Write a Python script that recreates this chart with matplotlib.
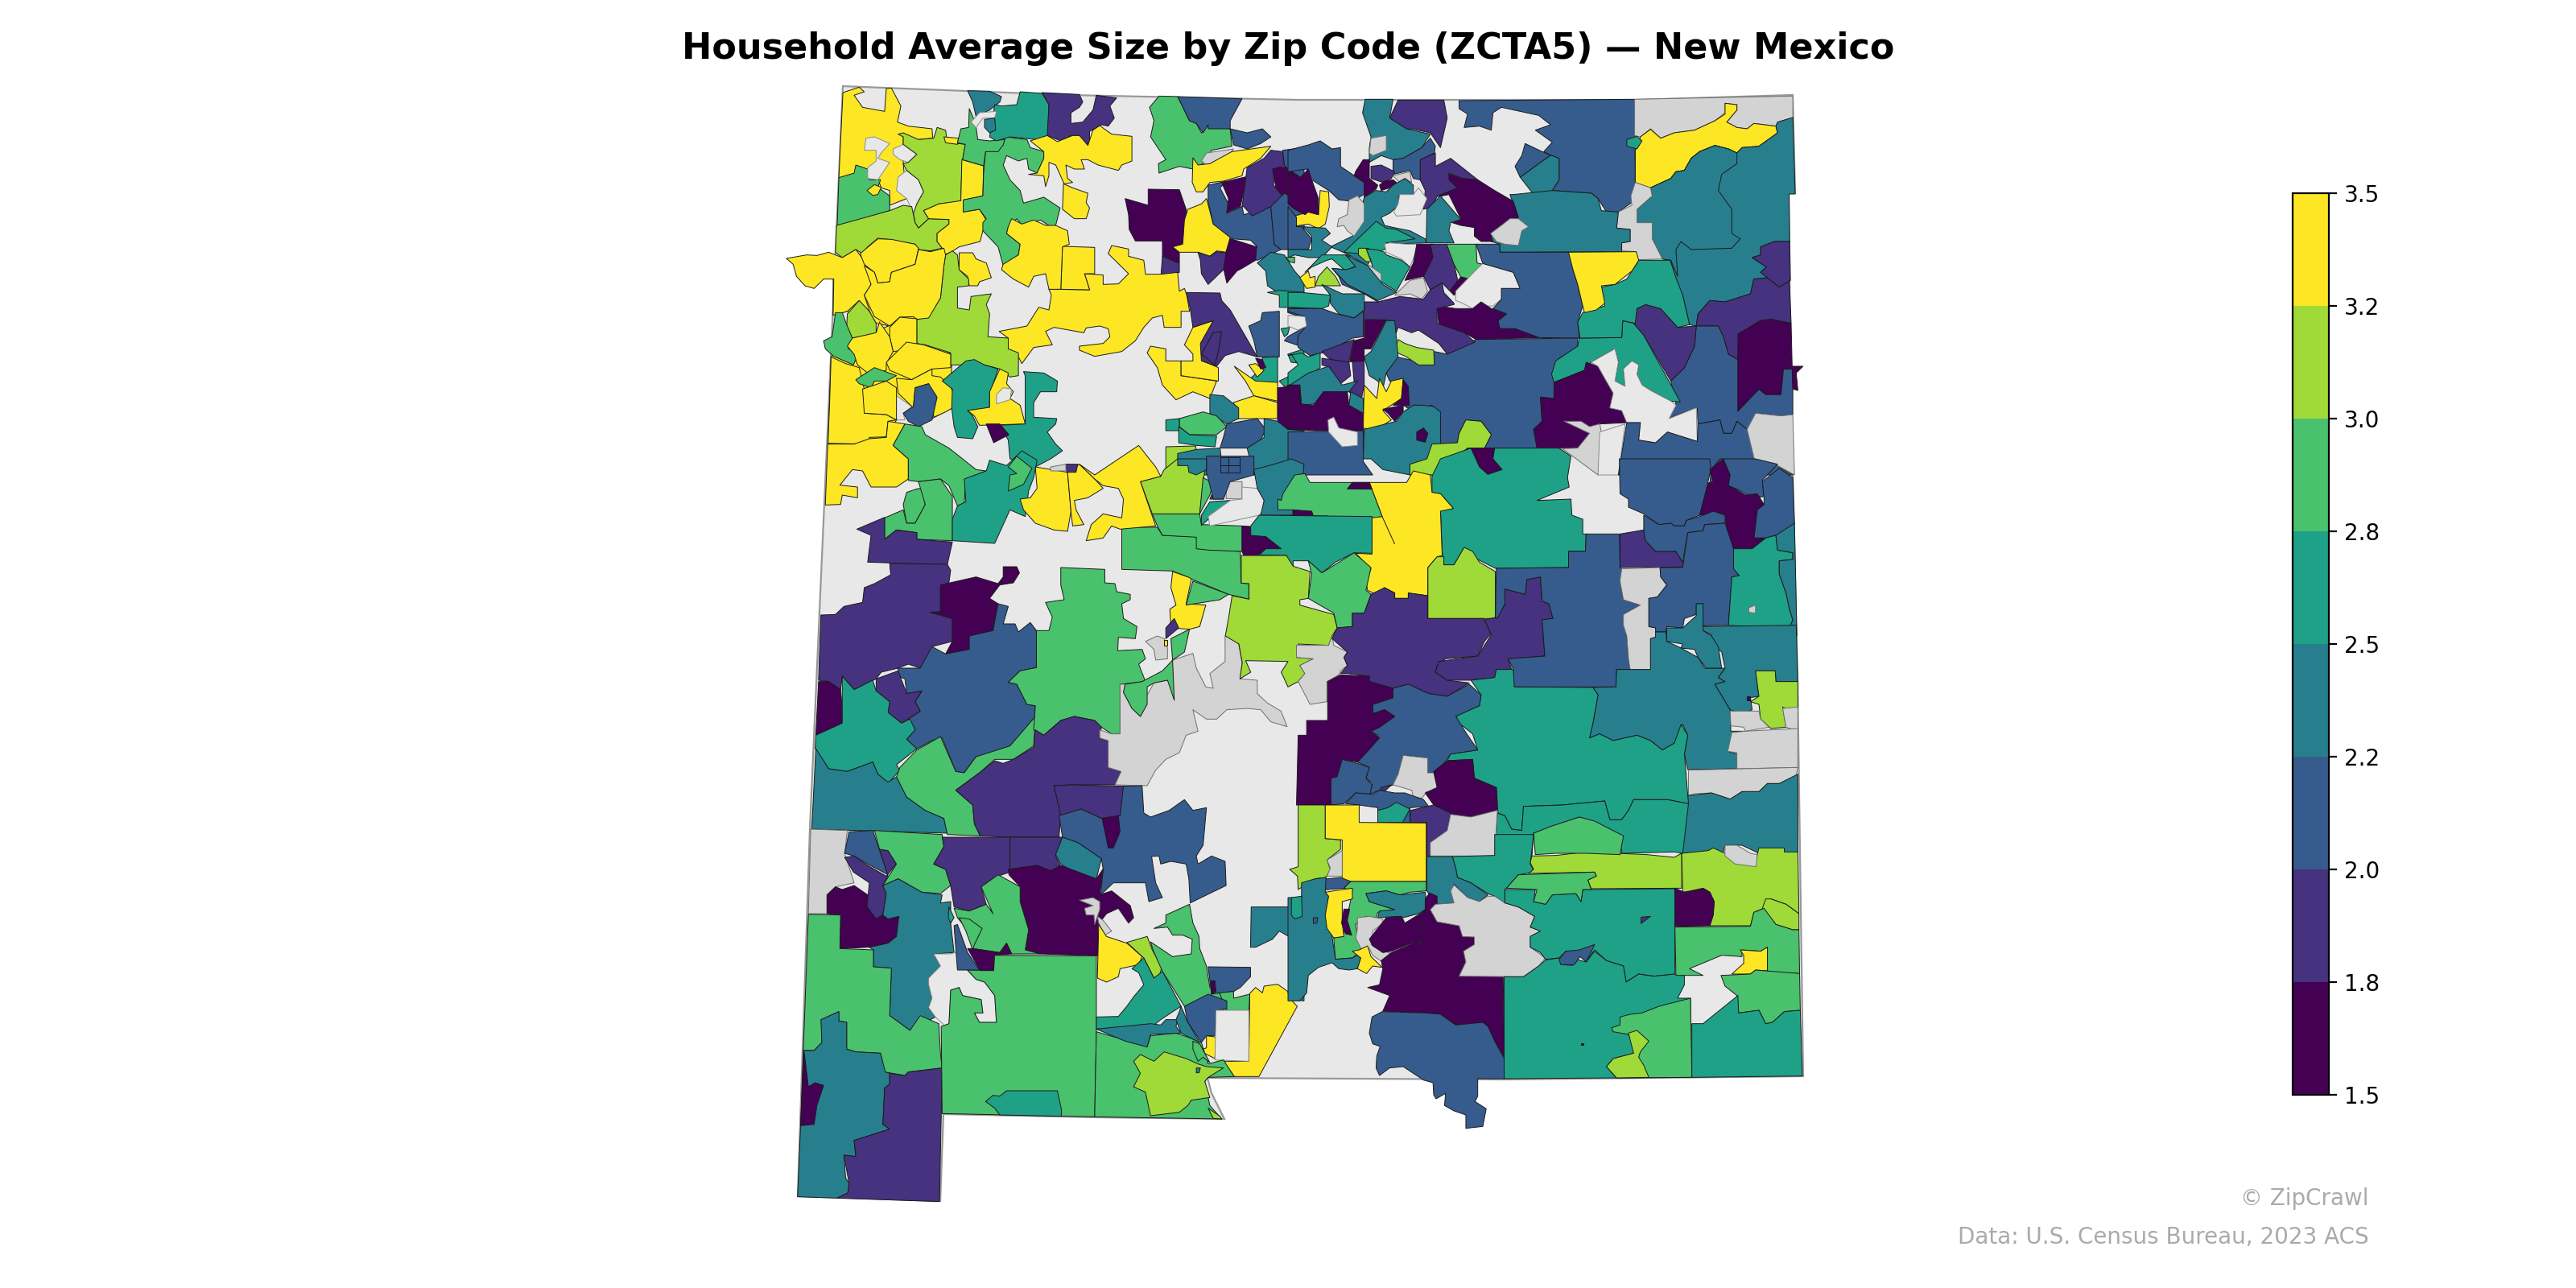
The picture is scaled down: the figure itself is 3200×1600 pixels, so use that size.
import numpy as np
import matplotlib
matplotlib.use("Agg")
import matplotlib.pyplot as plt
from matplotlib.collections import PolyCollection
from matplotlib.colors import BoundaryNorm
from matplotlib.cm import ScalarMappable

# class values: average household size per ZCTA
DK, PU, BL, BT, TE, GR, LI, YE = 1.6, 1.9, 2.1, 2.4, 2.6, 2.9, 3.1, 3.4
ND = float("nan")   # zcta with no estimate
GAP = None          # no zcta at all, state background shows

levels = [1.5, 1.75, 2.0, 2.25, 2.5, 2.75, 3.0, 3.25, 3.5]

state_outline = [1047,107, 1327,118, 1612,124, 2031,124, 2227,118, 2230,240, 2222,240, 2224,458, 2233,847, 2240,1337,
                 1869,1341, 1500,1339, 1505,1358, 1521,1390, 1361,1388, 1172,1384, 1168,1492, 991,1486, 1006,1030]

# zones per survey sheet, outlines as x,y pairs in sheet units
nw_zones = [
 (YE,[178,700,510,660,500,840,460,915,425,920,345,945,305,935,220,890,178,905]),
 (YE,[172,1060,240,1000,350,940,530,1050,525,1170,545,1240,470,1290,385,1270,365,1295,335,1360,163,1382]),
 (GAP,[360,1200,410,1245,385,1270,390,1295,362,1295]),
 (YE,[207,75,255,55,270,72,240,85,265,130,330,145,335,60,350,58,378,125,368,185,400,200,470,210,472,245,430,250,385,240,385,340,395,470,345,495,345,440,320,430,310,395,195,392]),
 (GR,[195,392,240,375,245,345,280,360,285,400,318,400,310,428,345,460,345,515,240,555,190,570]),
 (GAP,[270,290,275,245,300,240,345,265,320,300,310,320,345,335,310,400,280,395,280,355,305,330,305,290]),
 (GAP,[355,285,385,268,425,305,400,335,375,325,355,305]),
 (GAP,[370,390,395,365,430,400,445,445,425,490,430,505,415,525,395,470,365,440]),
 (YE,[278,440,300,418,320,428,310,455,295,458]),
 (LI,[385,240,370,230,385,225,430,250,475,245,485,205,510,215,515,260,568,268,558,345,555,480,490,490,445,515,460,545,430,580,420,560,415,525,425,490,445,445,430,400,395,365,385,340,400,335,425,305,385,268]),
 (YE,[505,240,548,245,545,268,510,262]),
 (LI,[188,570,240,552,345,515,385,495,410,500,420,560,430,580,460,545,520,548,520,565,485,600,485,630,500,655,465,665,430,660,420,640,340,622,310,618,280,650,265,675,245,660,205,690,185,670]),
 (YE,[558,325,622,348,620,460,565,475,562,520,610,510,630,550,620,590,612,630,550,650,525,670,505,680,500,655,485,630,485,600,520,565,520,548,460,545,445,515,490,490,555,478]),
 (GR,[628,295,680,270,685,240,750,250,760,280,800,295,800,320,780,375,755,360,750,320,725,330,690,310,680,345,700,400,730,440,740,487,800,465,848,505,835,570,820,575,790,550,735,568,720,545,695,575,690,600,730,640,725,680,680,720,665,650,620,590,620,560,630,545,610,510,562,520,562,475,620,460,622,380]),
 (GR,[580,135,592,170,600,205,605,250,640,255,685,250,680,270,665,295,628,295,622,348,560,325,568,268,545,262,555,210,578,205]),
 (BT,[575,68,640,70,675,90,670,110,640,140,600,165,590,110]),
 (TE,[730,72,795,78,815,120,812,235,780,250,700,240,660,255,640,240,655,120,675,125,720,120]),
 (GAP,[585,185,610,150,660,145,655,170,620,170,600,205]),
 (BT,[625,175,655,170,658,215,640,225,625,205]),
 (PU,[795,75,905,82,915,110,905,130,880,150,880,190,915,185,945,140,955,85,1015,95,995,125,1008,170,990,200,970,195,935,220,935,275,900,235,880,235,850,255,810,235,815,120]),
 (YE,[760,255,810,235,840,258,885,235,905,235,930,272,945,215,965,198,1000,230,1060,238,1060,330,1030,345,1020,365,990,355,960,345,930,325,910,325,920,360,890,360,865,345,870,395,885,410,860,415,835,345,815,335,815,385,805,425,800,385,755,380,780,375,800,320,800,295]),
 (YE,[858,415,885,430,930,450,925,485,935,505,925,545,890,545,870,525,855,510]),
 (GR,[1140,88,1195,90,1230,180,1250,190,1265,225,1285,195,1350,210,1355,275,1295,290,1270,340,1240,360,1200,350,1140,375,1138,340,1160,325,1115,240,1125,180,1112,130]),
 (BL,[1195,90,1385,98,1350,180,1350,210,1285,210,1285,195,1270,225,1250,190,1230,180]),
 (BL,[1350,210,1400,225,1445,210,1470,240,1440,265,1400,285,1360,270]),
 (ND,[1280,300,1360,285,1340,320,1280,345,1265,330]),
 (YE,[1240,318,1255,345,1290,340,1355,295,1470,275,1440,320,1390,360,1385,385,1330,405,1290,410,1270,445,1250,445,1238,410]),
 (DK,[1040,470,1108,495,1108,435,1200,437,1220,510,1225,590,1200,660,1200,710,1150,685,1150,628,1070,628,1052,585,1050,530]),
 (PU,[1150,685,1200,712,1200,745,1145,768]),
 (YE,[1180,650,1210,640,1215,550,1225,510,1265,490,1280,470,1300,565,1352,605,1338,670,1310,665,1290,685,1255,670,1200,670]),
 (YE,[990,675,1000,645,1050,658,1050,685,1095,700,1100,752,1145,752,1195,745,1200,815,1215,805,1222,830,1230,890,1205,890,1205,950,1155,950,1150,905,1120,915,1095,950,1070,1000,1030,1040,950,1058,905,1035,905,1020,975,1010,995,985,990,955,965,945,925,952,918,970,830,950,805,965,825,1015,770,1025,735,1085,725,1060,695,1030,695,990,668,965,750,945,785,875,815,885,822,830,815,808,935,810,920,750,975,755,975,790,1020,788,1050,750]),
 (YE,[855,648,950,652,950,750,920,750,935,810,850,808]),
 (YE,[705,545,735,565,770,550,805,570,835,570,870,590,875,640,855,650,850,808,815,808,805,750,770,760,755,800,710,770,675,735,680,715,725,680,730,640,690,600,695,575]),
 (YE,[550,672,590,672,600,695,630,710,645,765,610,780,605,795,580,795,575,760,550,735]),
 (LI,[510,680,530,665,545,680,550,735,578,770,578,795,545,800,545,878,580,885,585,835,645,825,630,865,640,900,635,985,695,990,695,1030,725,1045,725,1130,700,1135,670,1105,625,1090,600,1080,570,1090,525,1090,525,1045,450,1015,425,1010,425,920,460,910,495,840,505,720]),
 (YE,[40,693,100,680,130,682,165,670,205,690,245,660,275,710,290,790,270,830,290,905,305,935,255,850,220,890,178,905,180,770,150,770,122,805,95,795,70,760,60,715]),
 (YE,[258,675,310,620,350,622,420,640,430,655,420,715,350,745,345,780,310,785,300,745,270,715]),
 (YE,[270,720,300,745,310,785,345,780,350,745,420,715,430,660,465,668,505,655,510,680,505,720,495,840,460,915,425,920,415,910,375,912,345,945,300,910,270,830,290,790]),
 (LI,[220,900,255,850,285,890,305,935,305,972,235,990,218,950]),
 (GR,[185,895,205,895,218,940,235,990,222,1030,255,1040,238,1090,180,1058,155,1030,150,1000,175,985]),
 (YE,[345,950,375,912,425,918,425,1010,390,1035,355,1040,345,985]),
 (YE,[220,1020,235,990,305,970,315,930,345,985,355,1040,335,1085,335,1110,290,1130,250,1090,240,1050]),
 (YE,[172,1060,215,1085,255,1100,270,1180,270,1270,335,1275,365,1295,340,1300,335,1358,285,1360,285,1385,163,1382,168,1220]),
 (YE,[335,1080,395,1005,445,1015,525,1050,525,1100,470,1105,440,1125,410,1145,345,1110]),
 (GR,[245,1145,300,1100,365,1130,335,1150,300,1150,290,1175,255,1160]),
 (YE,[265,1180,335,1150,365,1175,365,1295,335,1275,270,1270]),
 (YE,[365,1140,410,1145,470,1105,470,1130,495,1135,525,1170,545,1240,510,1265,475,1285,470,1200,460,1160,420,1175,415,1250,370,1195]),
 (BL,[420,1175,460,1160,485,1210,470,1295,430,1320,400,1300,385,1270,415,1245]),
 (TE,[500,1150,570,1075,595,1070,625,1090,665,1105,640,1200,640,1250,575,1260,590,1280,605,1320,590,1365,545,1360,535,1320,528,1250,530,1180]),
 (YE,[670,1105,695,1120,690,1160,710,1190,700,1215,730,1240,745,1310,610,1315,595,1280,575,1260,640,1248,640,1190]),
 (GAP,[660,1200,680,1175,705,1180,700,1220,660,1235]),
 (TE,[740,1115,800,1120,840,1150,838,1190,790,1190,770,1230,770,1285,838,1290,835,1310,810,1340,835,1385,855,1410,820,1440,775,1470,700,1440,695,1370,670,1315,745,1310,745,1130]),
 (DK,[630,1310,670,1310,697,1350,652,1380]),
 (YE,[1115,1020,1160,1030,1160,1075,1205,1075,1205,1130,1310,1150,1290,1215,1240,1190,1190,1220,1150,1165,1135,1100,1105,1045]),
 (YE,[1215,1015,1240,950,1300,925,1265,1020,1270,1075,1315,1100,1315,1150,1205,1130,1205,1075,1240,1075,1240,1050]),
 (PU,[1220,820,1320,822,1325,850,1350,885,1430,1060,1375,1040,1335,1055,1310,1095,1265,1075,1262,1010,1300,925,1240,950,1232,880]),
 (PU,[1265,1050,1300,970,1325,965,1315,1040,1305,1090]),
 (BL,[1285,420,1340,405,1320,430,1345,490,1340,525,1385,500,1390,530,1470,500,1480,640,1500,660,1430,700,1410,695,1430,650,1410,625,1355,620,1300,565,1285,480]),
 (DK,[1325,410,1400,388,1380,500,1340,522,1345,470]),
 (PU,[1400,355,1450,320,1470,290,1505,295,1510,345,1480,360,1478,420,1510,470,1470,500,1415,535,1390,500,1385,500]),
 (BL,[1505,290,1568,280,1568,390,1550,410,1510,345]),
 (DK,[1475,360,1510,350,1568,400,1568,490,1510,465,1485,430]),
 (YE,[1540,530,1568,535,1568,572,1540,570]),
 (BL,[1470,500,1510,450,1568,490,1568,660,1500,660,1480,640]),
 (DK,[1350,620,1365,625,1390,635,1428,650,1425,700,1385,730,1370,740,1340,785,1332,740,1330,700]),
 (PU,[1255,670,1290,685,1310,668,1338,672,1330,735,1285,790,1265,750,1262,700]),
 (BT,[1430,710,1470,670,1510,680,1540,740,1568,780,1568,820,1490,820,1460,795,1455,740]),
 (GR,[1515,690,1540,688,1540,710,1525,705]),
 (TE,[1460,820,1495,812,1568,820,1568,878,1495,875,1495,830]),
 (BL,[1520,880,1568,878,1568,915,1520,895]),
 (BL,[1405,945,1440,925,1445,895,1495,890,1495,930,1495,1060,1430,1060,1420,1000]),
 (TE,[1500,955,1525,950,1520,975,1510,985]),
 (BL,[1520,985,1568,950,1568,1025,1510,1000]),
 (TE,[1520,1050,1568,1030,1568,1085,1530,1080]),
 (TE,[1445,1062,1490,1060,1490,1155,1430,1165,1410,1140,1445,1100]),
 (YE,[1362,1095,1425,1150,1490,1155,1490,1225,1420,1205,1395,1150]),
 (YE,[1360,1230,1420,1205,1490,1230,1490,1290,1400,1290,1370,1290]),
 (YE,[1405,1090,1425,1085,1450,1110,1430,1135]),
 (DK,[1425,1065,1445,1070,1455,1100,1440,1105]),
 (DK,[1490,1175,1568,1165,1568,1330,1510,1330,1490,1300]),
 (TE,[1495,1150,1568,1105,1568,1165,1510,1170]),
 (BT,[1290,1200,1330,1205,1375,1250,1375,1290,1340,1310,1290,1270]),
 (GR,[1200,1290,1270,1265,1310,1280,1340,1320,1310,1350,1230,1350,1200,1320]),
 (TE,[1160,1295,1200,1290,1200,1335,1160,1335]),
 (TE,[1198,1320,1230,1350,1310,1355,1305,1395,1250,1390,1198,1380]),
 (LI,[1160,1395,1248,1392,1250,1410,1200,1440,1200,1500,1160,1500]),
 (BL,[1340,1310,1430,1290,1455,1330,1440,1370,1400,1400,1320,1400,1330,1360]),
 (BT,[1450,1290,1490,1300,1520,1330,1568,1335,1568,1500,1420,1500,1400,1400,1450,1360]),
 (BT,[1195,1420,1250,1405,1320,1400,1330,1500,1240,1500,1220,1460,1195,1455]),
]

ne_zones = [
 (BL,[505,105,1023,100,1025,410,1020,480,975,520,940,520,915,470,895,450,780,440,800,400,800,320,775,308,755,295,780,260,730,215,775,195,740,160,630,130,605,150,600,215,565,200,520,205,530,155,505,135]),
 (BT,[775,308,800,320,800,400,780,440,765,455,725,455,685,390]),
 (BL,[700,265,750,295,775,308,685,390,670,350,690,310]),
 (ND,[1023,100,1490,88,1490,168,1445,185,1440,200,1375,190,1355,210,1325,205,1295,185,1325,140,1325,120,1290,115,1290,150,1260,180,1200,215,1140,225,1100,245,1070,210,1040,240,1023,235]),
 (YE,[1025,290,1040,240,1070,212,1100,245,1140,225,1200,215,1260,180,1290,155,1290,115,1325,120,1325,140,1295,185,1325,205,1355,210,1375,190,1440,200,1445,225,1390,275,1340,280,1325,300,1300,285,1260,272,1215,295,1190,320,1170,365,1145,370,1130,395,1070,430,1025,410]),
 (TE,[1000,250,1030,238,1045,255,1030,285,1000,275]),
 (BT,[1490,168,1497,453,1479,453,1481,630,1435,630,1395,650,1395,680,1370,690,1412,725,1395,745,1415,765,1375,770,1365,825,1290,855,1245,850,1210,900,1205,945,1185,940,1165,830,1140,765,1130,700,1105,695,1075,620,1075,560,1050,550,1030,560,1030,510,1075,460,1070,430,1130,395,1145,370,1170,365,1190,320,1215,295,1260,272,1300,285,1325,300,1340,280,1390,275,1445,225,1440,200,1445,185]),
 (BT,[1325,300,1325,340,1280,380,1270,440,1310,510,1310,600,1335,620,1310,655,1190,660,1160,630,1145,660,1150,760,1130,700,1105,695,1075,620,1075,560,1030,560,1030,510,1075,460,1070,430,1130,395,1145,370,1170,365,1190,320,1215,295,1260,272,1300,285]),
 (ND,[1025,410,1070,430,1075,460,1030,510,1030,560,1075,560,1075,620,1105,695,1030,698,1028,668,985,665,985,635,1010,630,1010,585,970,580,975,520,1015,495,1012,460]),
 (BT,[665,455,780,440,895,450,915,470,925,515,975,520,970,580,1010,585,1010,630,985,635,985,668,625,670,625,640,600,630,598,605,625,570,680,540,655,455]),
 (DK,[475,378,515,395,560,400,610,440,665,480,680,540,625,570,598,605,605,630,570,630,550,610,550,578,510,570,485,560,510,545,475,455,455,460,440,462,500,430,475,400]),
 (ND,[598,600,630,570,655,545,680,545,710,575,690,590,680,645,640,640,615,630]),
 (PU,[390,325,435,300,435,350,480,320,560,400,515,395,475,375,475,400,500,430,440,462,425,500,400,510,405,440,390,400]),
 (BT,[410,510,450,460,510,548,480,560,475,590,490,635,408,635]),
 (PU,[325,103,460,103,470,170,450,280,420,225,365,210,350,215,300,170]),
 (BT,[228,100,310,100,300,170,350,210,420,230,395,280,340,320,310,325,275,310,240,335,240,280,245,240,220,150]),
 (ND,[245,245,290,235,290,290,250,310,240,300]),
 (BL,[310,325,340,320,395,280,420,245,435,275,432,300,390,325,390,400,370,395,360,365,310,380]),
 (PU,[245,350,275,345,315,370,305,395,280,410,245,395]),
 (ND,[310,385,360,370,365,410,345,395,330,410]),
 (BL,[0,290,60,270,95,255,130,285,155,280,155,350,190,380,225,410,230,450,190,480,150,475,125,445,120,440,70,400,55,360,0,370]),
 (DK,[222,325,240,325,240,395,265,420,260,435,225,465,225,410,195,385,200,368]),
 (DK,[270,420,285,405,310,400,320,410,300,430,275,440]),
 (BT,[225,465,260,440,290,445,310,420,345,395,370,420,370,455,325,460,330,490,300,525,275,540,285,570,320,580,360,590,405,620,408,635,290,640,250,670,235,720,180,680,145,660,125,650,190,610,225,555,220,490]),
 (ND,[180,475,205,460,225,490,225,555,195,610,175,590,165,570,145,575,150,545,175,530]),
 (YE,[95,440,120,445,122,500,110,565,90,582,60,565,25,572,20,535,60,520,90,530]),
 (DK,[0,370,30,400,60,360,70,400,90,470,90,530,60,520,50,530,20,510,0,490]),
 (BL,[0,500,25,540,25,575,40,575,70,620,60,660,0,660]),
 (BT,[45,575,110,580,125,600,100,625,130,650,100,690,60,690,20,680,0,690,0,660,70,660,70,610]),
 (GAP,[330,455,370,455,385,430,410,470,390,530,320,535,312,520,325,490]),
 (TE,[165,670,260,555,290,580,320,585,375,620,320,630,290,635,285,660,260,670,235,655,210,675]),
 (GAP,[285,640,300,635,350,640,395,640,380,660,360,725,335,695,290,670]),
 (TE,[230,658,260,660,285,670,290,680,335,700,360,725,320,815,275,780,250,730,245,700]),
 (LI,[208,655,230,655,245,705,230,705,208,680]),
 (ND,[235,715,275,750,275,790,245,760]),
 (DK,[380,640,430,640,428,690,400,760,345,775,370,710]),
 (PU,[420,640,470,640,490,710,500,770,490,830,455,785,420,810,400,760,428,690]),
 (GR,[468,640,555,640,558,710,575,715,555,770,555,785,535,770,510,762,490,715]),
 (DK,[510,762,535,770,490,830,480,810]),
 (ND,[315,830,360,775,400,765,412,815,395,845,360,825,330,830]),
 (GAP,[495,815,560,730,575,712,665,745,685,805,630,805,630,845,605,870,570,870,545,880,515,860,495,850]),
 (BL,[555,640,625,640,625,670,830,670,840,730,855,790,870,870,855,930,860,990,740,988,670,955,625,955,620,925,645,900,605,880,630,845,630,805,685,805,665,745,575,712]),
 (BL,[555,995,855,990,855,1025,800,1065,780,1125,790,1155,785,1215,745,1210,750,1300,725,1330,735,1400,580,1400,600,1350,570,1300,525,1295,505,1345,500,1380,450,1385,450,1300,425,1240,365,1260,340,1240,355,1240,345,1160,300,1150,290,1120,320,1060,430,1090,432,1040,470,1050]),
 (DK,[495,880,545,880,570,855,600,880,645,900,620,925,625,955,670,955,740,988,555,995,520,970,445,940,440,870]),
 (PU,[225,855,265,855,330,835,400,845,420,810,455,785,460,820,490,860,490,865,440,880,440,935,520,970,552,1005,470,1050,445,1010,385,960,365,970,325,950,315,985,310,925,225,920]),
 (LI,[325,995,345,1010,380,1025,430,1035,432,1090,385,1090,350,1060,315,1040]),
 (TE,[50,745,100,680,180,680,200,720,170,740,130,695,115,700,70,725]),
 (BL,[130,730,170,735,265,830,265,855,225,825,160,790,150,760]),
 (BT,[170,680,235,720,280,790,320,820,265,850,230,825,175,790,130,730,170,735,200,725]),
 (LI,[90,760,115,725,140,760,155,795,80,795]),
 (YE,[35,765,60,740,65,765,80,760,80,800,55,805]),
 (TE,[0,820,40,820,125,830,120,870,100,880,0,875]),
 (BT,[100,790,160,825,225,825,225,885,195,915,150,900,125,860,125,830]),
 (BL,[0,880,100,880,145,900,195,915,222,890,222,985,190,990,120,1040,65,1055,30,1025,28,1005,30,980,55,945,50,910,0,890]),
 (GAP,[0,905,50,910,55,945,30,960,0,945]),
 (DK,[225,922,290,922,245,1030,225,1030,195,1000,225,990]),
 (BT,[290,925,315,925,325,1060,290,1120,280,1180,265,1150,240,1130,225,1060,245,1040]),
 (PU,[100,1040,195,995,180,1075,180,1080,145,1075,120,1065]),
 (DK,[195,1000,225,1030,225,1075,182,1078]),
 (PU,[100,1065,180,1080,185,1130,150,1165,125,1100,100,1090]),
 (PU,[190,1078,225,1075,225,1160,215,1230,180,1190,195,1150]),
 (TE,[0,1055,40,1045,60,1060,95,1045,95,1100,60,1130,0,1170,0,1120,30,1090,10,1050]),
 (BT,[0,1170,60,1120,120,1095,160,1165,205,1150,180,1190,105,1190,80,1235,40,1240,35,1165,0,1165]),
 (DK,[0,1165,35,1165,35,1235,75,1240,105,1190,175,1190,180,1240,222,1270,222,1335,80,1335,0,1330]),
 (BT,[185,1190,222,1215,222,1270,180,1240]),
 (YE,[225,1165,262,1215,270,1140,290,1190,305,1150,340,1140,335,1215,305,1240,280,1260,305,1295,255,1335,222,1325]),
 (DK,[340,1145,355,1170,358,1240,310,1240,335,1215]),
 (DK,[280,1255,340,1240,340,1265,315,1300,295,1270]),
 (BT,[225,1330,320,1300,340,1265,370,1240,395,1240,430,1245,450,1265,450,1385,425,1385,425,1500,360,1500,280,1480,245,1440,222,1440]),
 (DK,[380,1340,400,1325,413,1345,405,1378,380,1370]),
 (BL,[0,1340,222,1335,222,1450,250,1500,0,1500]),
 (GAP,[118,1295,135,1285,150,1325,205,1340,205,1390,160,1395,120,1340]),
 (LI,[425,1385,500,1380,505,1345,525,1295,570,1300,600,1350,580,1400,510,1420,465,1450,430,1500,360,1500,360,1460,410,1440]),
 (DK,[510,1420,530,1400,610,1402,605,1440,630,1480,590,1500,570,1500,560,1470,530,1440]),
 # east side below the panhandle line
 (PU,[1205,945,1210,900,1245,850,1290,855,1365,825,1375,770,1415,765,1450,800,1480,775,1485,935,1425,920,1395,925,1330,975,1328,1070,1300,1050,1285,985,1270,945]),
 (PU,[1395,650,1435,630,1481,630,1483,775,1450,800,1415,765,1395,745,1412,725,1370,690,1395,680]),
 (BL,[1205,945,1270,945,1285,985,1300,1050,1328,1070,1328,1262,1390,1180,1410,1200,1455,1200,1462,1105,1490,1105,1490,1275,1455,1280,1380,1270,1380,1330,1355,1330,1325,1300,1310,1345,1285,1345,1275,1295,1210,1310,1208,1250,1140,1280,1125,1290,1145,1235,1130,1150,1170,1100,1200,1020]),
 (DK,[1328,975,1395,925,1425,920,1485,935,1488,1095,1520,1095,1500,1120,1505,1185,1490,1180,1488,1105,1462,1105,1455,1200,1410,1200,1390,1180,1328,1262]),
 (PU,[1020,935,1030,880,1055,865,1100,880,1150,950,1205,945,1200,1020,1170,1100,1130,1150,1050,980]),
 (TE,[860,990,985,988,988,925,1020,935,1050,980,1158,1228,1130,1225,1070,1185,1045,1165,1030,1125,1035,1090,1015,1075,990,1105,995,1170,965,1150,975,1080,965,1030,895,1080,875,1110,785,1155,778,1125,790,1075,855,1020]),
 (TE,[862,990,855,930,870,895,935,870,925,800,965,790,1000,770,1035,700,1128,700,1145,765,1165,830,1185,940,1150,950,1100,880,1055,865,1030,880,1025,935,988,925,985,988]),
 (YE,[828,670,1028,668,1035,700,1015,740,985,770,965,790,925,795,935,860,910,885,875,895,870,870,855,790,840,730]),
 (DK,[785,1155,875,1110,880,1080,915,1095,935,1140,960,1195,950,1250,985,1260,1000,1305,920,1310,895,1320,890,1345,855,1400,735,1400,725,1330,750,1300,745,1210,785,1215]),
 (GAP,[895,1080,965,1030,975,1080,965,1150,995,1170,990,1105,1015,1075,1035,1090,1030,1125,1045,1165,1070,1185,1130,1225,1145,1240,1125,1290,1205,1250,1208,1375,1120,1340,1085,1380,1035,1370,1040,1305,1000,1305,985,1260,950,1250,960,1195,935,1140,915,1095]),
 (ND,[815,1300,865,1300,890,1320,920,1310,925,1340,915,1500,810,1402,855,1400,890,1345]),
 (GAP,[920,1340,995,1310,975,1500,915,1500]),
 (BL,[1000,1305,1040,1305,1035,1370,1085,1380,1120,1340,1208,1375,1210,1310,1275,1295,1285,1345,1310,1345,1325,1300,1355,1330,1380,1330,1380,1460,1445,1465,1490,1500,975,1500]),
 (ND,[1355,1330,1380,1270,1455,1280,1490,1275,1495,1500,1445,1465,1380,1460]),
]

w_zones = [
 (YE,[162,-55,240,-55,285,-75,335,-80,340,-140,390,-130,355,-50,400,0,400,75,365,105,290,105,265,45,235,40,198,98,250,105,250,145,205,135,200,170,155,172]),
 (GR,[355,-50,390,-130,440,-120,450,-90,520,-40,600,40,630,45,570,75,565,165,545,175,520,100,495,75,430,85,400,80,400,0]),
 (GR,[385,170,395,125,430,110,445,115,450,170,420,240,395,240]),
 (GR,[330,220,385,190,395,240,420,240,450,170,430,85,495,75,530,140,530,305,425,300,425,275,365,265,330,300]),
 (TE,[530,305,530,225,545,175,570,160,565,75,630,45,640,5,690,25,735,-30,780,5,770,70,755,120,745,215,700,190,655,315]),
 (GR,[695,120,700,60,720,55,695,30,720,-10,765,35,750,70,740,95]),
 (PU,[248,262,330,218,330,300,365,265,425,275,425,300,530,310,515,395,280,385,290,285]),
 (PU,[345,390,515,393,525,415,520,460,495,480,495,570,465,572,530,595,530,680,470,700,465,740,435,780,400,765,370,780,320,795,305,820,240,860,205,810,200,860,165,830,135,825,142,582,185,580,210,550,265,535,270,480,300,465,348,432]),
 (DK,[495,470,600,440,665,465,680,440,680,402,720,402,728,425,710,462,670,470,640,520,665,540,650,640,580,660,580,710,510,727,530,680,530,595,465,572,495,570]),
 (BL,[665,540,695,550,680,615,715,615,725,645,760,610,778,640,778,778,730,790,695,833,720,840,750,915,775,920,775,960,750,1000,700,1070,650,1100,600,1110,565,1170,540,1165,500,1040,470,1050,425,1080,395,1045,420,1010,400,970,435,940,420,905,440,865,395,875,390,820,370,810,370,780,435,780,470,700,510,727,580,710,580,660,650,640]),
 (PU,[305,820,370,790,395,875,440,865,420,905,435,940,380,985,340,945,345,905,305,865]),
 (DK,[135,830,165,830,200,860,205,925,228,932,205,950,205,985,140,1035,127,1030]),
 (TE,[205,810,240,860,295,825,305,865,345,905,340,945,380,985,405,970,420,1010,395,1045,425,1080,365,1140,375,1160,340,1210,310,1175,295,1130,220,1165,165,1155,125,1080,127,1030,205,985,205,925]),
 (BT,[127,1080,165,1155,220,1165,295,1130,310,1175,340,1205,365,1185,395,1260,450,1310,505,1340,515,1395,115,1380]),
 (GR,[365,1185,375,1150,425,1085,495,1035,540,1165,565,1170,600,1110,700,1070,775,960,770,1070,710,1120,655,1120,610,1170,540,1235,590,1290,595,1360,612,1405,515,1400,505,1340,450,1310,395,1260]),
 (GR,[850,405,980,412,980,462,1010,465,1015,495,1055,505,1055,525,1030,540,1035,595,1075,625,1070,670,1020,665,1018,715,1090,710,1100,745,1080,765,1100,830,1025,840,1025,1025,1000,1025,970,1000,950,975,890,960,850,975,800,1030,770,1010,775,920,750,915,720,840,695,833,730,790,778,778,778,640,815,640,825,590,805,535,860,525,850,470]),
 (PU,[775,1010,800,1030,850,975,890,960,950,975,970,1000,965,1040,990,1050,990,1145,1028,1165,1010,1215,880,1215,830,1218,850,1310,845,1410,700,1410,612,1405,595,1360,590,1290,540,1235,610,1170,655,1125,680,1135,710,1120,770,1075]),
 (PU,[830,1218,880,1215,1040,1220,1030,1300,1025,1330,970,1340,910,1305,850,1330]),
 (ND,[990,1050,965,1040,965,1010,1000,1025,1025,1025,1025,840,1040,840,1035,870,1060,930,1085,960,1105,880,1125,835,1165,825,1180,750,1240,725,1250,780,1278,850,1300,855,1290,800,1335,755,1335,660,1355,665,1375,690,1385,760,1380,820,1430,825,1430,875,1460,910,1500,940,1518,998,1470,980,1440,935,1400,930,1340,935,1310,970,1280,970,1240,935,1255,1015,1220,1030,1200,1095,1160,1120,1130,1160,1105,1218,1010,1215,1028,1165,990,1150]),
 (GR,[1040,840,1090,830,1150,790,1180,750,1185,900,1165,825,1125,835,1105,850,1105,915,1085,960,1060,930,1035,870]),
 (ND,[1100,680,1135,660,1155,670,1165,705,1165,745,1130,750,1125,710]),
 (GR,[1175,670,1230,635,1215,720,1180,750]),
 (YE,[1180,420,1225,440,1240,420,1220,540,1278,545,1260,625,1230,635,1175,630,1172,560,1190,545,1175,480]),
 (YE,[1155,675,1165,675,1165,695,1155,695]),
 (PU,[1160,630,1185,595,1198,630,1160,670]),
 (DK,[1235,415,1245,395,1248,410,1238,430]),
 (GR,[1030,255,1135,255,1150,285,1250,290,1255,335,1380,345,1382,463,1405,465,1405,523,1345,505,1240,450,1225,440,1180,418,1030,412]),
 (GR,[1240,455,1345,505,1320,525,1220,545]),
 (GR,[1120,205,1260,205,1265,245,1385,250,1385,345,1285,340,1250,335,1250,292,1150,285,1135,250]),
 (LI,[1085,85,1145,65,1155,40,1195,0,1275,40,1260,205,1120,205]),
 (GR,[1270,70,1300,90,1290,135,1260,205]),
 (PU,[1295,30,1320,55,1340,90,1330,150,1290,150,1310,90]),
 (ND,[1338,85,1385,85,1385,150,1338,148]),
 (TE,[1265,210,1290,160,1350,155,1290,220,1265,248]),
 (YE,[775,30,870,50,880,195,870,270,830,265,775,240,740,190,730,150,760,145,780,110]),
 (YE,[870,50,905,20,950,75,975,110,930,145,890,155,895,190,918,245,885,250,880,195]),
 (YE,[905,20,950,60,1080,-50,1130,30,1145,65,1085,85,1130,250,1025,262,1000,250,975,295,925,305,940,245,975,205,1030,220,1035,150,1020,110,975,100,950,75]),
 (PU,[865,20,900,20,895,50,868,50]),
 (ND,[820,30,865,20,865,45,820,45]),
 (BL,[1280,-10,1420,-10,1420,60,1350,85,1330,150,1300,150,1280,50]),
 (BL,[1320,25,1345,25,1345,50,1320,50]),
 (BL,[1345,25,1378,25,1378,50,1345,50]),
 (BL,[1320,-5,1345,-5,1345,25,1320,25]),
 (BL,[1345,-5,1378,-5,1378,25,1345,25]),
 (BT,[1195,0,1280,0,1280,40,1250,60,1228,50,1225,25,1195,25]),
 (GAP,[1385,105,1430,110,1450,155,1450,190,1435,210,1290,250,1285,215,1350,155,1385,150]),
 (BT,[1420,40,1480,20,1530,0,1568,20,1560,110,1510,130,1490,180,1535,150,1535,210,1440,210,1450,155,1430,110]),
 (DK,[1535,190,1568,190,1568,210,1535,210]),
 (DK,[1385,250,1410,252,1410,285,1455,290,1500,335,1470,345,1435,355,1425,395,1400,390,1385,345]),
]

sw_zones = [
 (ND,[112,-30,220,-25,212,60,240,170,185,185,160,215,160,285,105,285]),
 (BL,[225,-20,295,-25,340,140,280,100,240,70,212,60]),
 (PU,[212,75,240,70,280,105,335,145,365,100,340,50,315,45,340,145,325,180,335,210,325,290,305,305,278,260,285,170,238,130]),
 (GR,[300,-25,500,-10,505,35,475,100,510,120,525,180,495,210,440,205,370,155,335,175,325,180,365,100,340,50,315,45]),
 (PU,[500,0,700,0,700,130,665,145,615,185,630,250,580,275,535,260,525,180,510,120,475,100,505,35]),
 (PU,[700,0,855,0,835,70,850,110,820,125,780,105,700,120]),
 (BL,[845,-80,910,-105,970,-70,1025,-80,1035,-190,1090,-192,1095,-90,1115,-75,1170,-100,1215,-140,1240,-100,1280,-110,1270,30,1250,70,1255,100,1295,70,1335,90,1338,180,1232,245,1228,155,1220,100,1175,90,1145,100,1140,70,1118,72,1130,170,1150,225,1110,240,1100,170,1005,170,968,215,975,120,970,80,900,20,855,0]),
 (DK,[972,-70,1020,-80,1025,-20,1005,40,990,40]),
 (BT,[855,0,900,20,970,80,955,155,900,140,850,100,835,65]),
 (DK,[695,120,780,105,820,125,850,105,955,155,975,118,965,215,1000,200,1055,255,1065,300,1050,320,1020,265,985,285,970,310,960,330,960,442,790,435,745,420,755,345,730,240,730,185,697,140]),
 (ND,[905,235,945,225,965,240,965,270,950,325,948,290,925,290,920,265,945,255]),
 (ND,[958,295,975,310,1000,350,980,365,962,320]),
 (DK,[160,215,185,185,205,195,240,180,280,215,278,260,305,305,325,290,372,295,365,370,340,395,285,410,198,415,200,290,160,285]),
 (BT,[325,180,370,155,440,205,500,215,495,245,525,240,525,320,535,430,475,435,495,480,460,525,460,550,470,600,460,635,480,670,405,720,345,665,350,488,297,483,297,420,285,410,340,395,365,370,372,295,340,305,325,290,335,210]),
 (GAP,[475,435,525,435,550,425,550,465,600,530,625,540,655,590,660,690,610,690,595,655,620,655,615,605,560,590,550,560,525,570,520,695,510,705,480,670,460,635,470,600,460,550,460,525,495,480]),
 (GR,[105,287,200,290,198,415,297,420,297,483,350,488,345,665,405,720,435,665,490,695,495,810,500,860,400,875,390,888,330,875,318,805,245,800,218,790,218,690,195,685,195,650,143,680,145,765,122,795,90,795]),
 (BT,[90,795,122,795,145,765,142,680,195,650,195,685,218,690,218,790,245,800,318,805,332,875,345,880,345,920,330,935,325,1070,345,1088,240,1130,245,1190,210,1185,215,1270,225,1290,222,1325,190,1345,73,1340,82,1075]),
 (DK,[92,795,105,930,125,915,150,925,130,1000,122,1070,82,1075]),
 (PU,[345,880,390,888,400,875,500,860,492,1358,190,1345,222,1325,225,1290,210,1185,245,1190,240,1130,345,1088,325,1070,330,935,345,920]),
 (GR,[497,705,520,695,525,570,550,560,560,590,615,605,620,655,595,655,610,690,660,690,655,590,625,540,600,530,575,495,652,495,655,440,955,442,955,730,950,1042,500,1030]),
 (TE,[628,985,650,962,670,965,690,945,840,945,852,1015,852,1040,670,1035,655,1010]),
 (GR,[535,265,580,275,630,250,650,285,615,185,665,140,730,185,730,240,755,345,745,420,790,435,705,435,690,395,670,430,590,415,575,345,545,300]),
 (GR,[550,300,580,305,618,340,595,400,590,420,570,350]),
 (BL,[535,330,545,325,575,430,610,495,545,495]),
 (DK,[575,415,590,415,670,430,690,395,705,435,652,440,652,497,612,497]),
 (TE,[520,260,535,300,525,320,518,300]),
 (YE,[962,325,985,370,1045,395,1090,445,1080,475,1025,490,1020,520,985,540,958,525]),
 (LI,[1045,392,1105,370,1120,420,1148,485,1140,520,1125,525,1095,450]),
 (TE,[1060,490,1095,450,1125,525,1150,500,1205,630,1145,680,1115,710,955,715,955,670,1020,668,1045,630,1065,595,1095,550,1080,505]),
 (GR,[1125,340,1160,320,1160,290,1230,250,1240,320,1258,370,1260,415,1280,480,1290,560,1310,578,1340,590,1340,640,1280,660,1215,630,1150,500,1122,420,1115,390,1180,445,1235,435,1238,380,1210,365,1180,365,1165,335]),
 (BL,[1285,483,1410,485,1410,520,1380,560,1360,575,1320,580,1295,585]),
 (DK,[1292,535,1305,535,1308,575,1295,585]),
 (GR,[1318,580,1360,575,1360,600,1408,585,1405,655,1340,645]),
 (BL,[1215,630,1285,585,1340,610,1340,640,1310,645,1305,740,1280,740,1265,765,1225,690]),
 (YE,[1408,582,1425,560,1445,580,1450,555,1490,548,1520,575,1525,600,1548,630,1435,892,1362,892,1330,835,1405,835]),
 (YE,[1280,740,1308,745,1305,825,1258,795,1280,785]),
 (GAP,[1308,645,1405,645,1405,835,1305,830]),
 (GR,[955,725,1105,780,1115,740,1190,730,1225,745,1265,765,1285,845,1330,830,1362,892,1285,895,1275,910,1290,1000,1325,1050,1080,1045,950,1042]),
 (BT,[955,715,1115,695,1145,700,1160,680,1195,680,1190,705,1205,730,1115,735,1105,782,1040,760]),
 (GR,[1240,760,1260,770,1290,840,1270,820,1255,835,1240,790]),
 (LI,[1065,930,1085,880,1065,835,1085,810,1125,835,1155,800,1220,825,1255,845,1280,855,1330,860,1285,895,1275,910,1290,970,1235,980,1225,1000,1200,1025,1115,1038,1100,950]),
 (LI,[1285,1010,1320,1040,1325,1050,1300,1048]),
 (BT,[1205,630,1225,690,1260,765,1205,730,1190,680,1200,650]),
 (BT,[1250,860,1262,860,1258,878,1250,878]),
 (BT,[1412,260,1530,260,1568,240,1568,610,1525,605,1525,550,1530,375,1495,350,1475,380,1425,410,1410,410]),
]

e_zones = [
 (TE,[425,65,450,0,540,-40,610,-40,800,-40,835,-10,825,70,830,105,735,155,835,150,838,210,870,225,870,280,880,280,878,345,828,345,828,405,612,408,545,365,520,330,490,395,460,395,455,345,450,190,488,185,450,130,425,125]),
 (DK,[540,-40,610,-40,605,0,632,40,590,58,565,30]),
 (YE,[370,45,420,60,425,125,450,130,488,185,450,195,455,360,440,365,413,405,412,510,355,500,355,520,315,520,315,500,285,480,260,505,235,490,230,460,245,410,200,352,248,355,248,215,278,215,240,88,350,88]),
 (YE,[278,215,315,318]),
 (GR,[-15,130,20,60,50,55,65,88,240,88,278,215,150,235,115,213,55,213,15,190,-30,190,-30,150,-20,155]),
 (DK,[175,112,190,88,240,88,248,113]),
 (DK,[15,190,70,195,75,213,115,215,115,232,55,232,55,210,15,210]),
 (TE,[-110,250,-85,210,248,215,248,352,195,350,140,385,100,425,60,380,15,380,15,400,-5,400,-5,360,-85,358,-65,335,-20,335,-65,290,-110,285]),
 (GR,[60,380,100,425,195,350,245,405,230,490,245,505,225,575,190,575,190,625,145,630,135,575,60,520,70,430]),
 (LI,[-165,510,-115,523,-115,465,-138,463,-138,360,-5,360,15,400,65,420,60,520,35,525,35,545,135,580,145,630,130,660,120,695,30,690,25,740,75,745,35,770,50,800,30,830,0,850,-20,795,0,755,-125,752,-110,795,-142,820,-135,760,-145,690,-185,660,-175,590]),
 (LI,[460,395,490,395,520,330,545,345,565,385,612,420,612,595,413,595,413,405,440,365,460,365]),
 (ND,[25,695,120,695,130,660,135,695,175,720,165,740,175,770,155,790,150,805,115,830,115,905,65,915,30,830,50,800,35,770,75,745,25,740]),
 (PU,[130,670,145,630,190,625,190,575,225,575,245,505,285,480,315,500,315,520,355,520,355,500,412,510,412,595,578,595,600,650,580,680,560,735,465,745,440,770,435,795,470,825,535,835,470,885,415,875,355,840,310,855,240,830,240,810,175,800,155,800,175,770,165,740,175,720]),
 (PU,[580,600,615,590,640,545,640,485,700,505,705,450,745,440,750,530,770,540,782,595,750,600,758,735,650,745,660,785,615,785,610,815,540,825,470,825,435,795,445,755,560,735,600,655]),
 (BL,[615,408,828,405,828,345,878,345,880,280,978,280,980,405,985,410,985,490,990,525,1040,545,990,580,1000,660,1005,745,1010,785,970,785,968,850,665,850,665,785,650,745,758,735,750,600,782,595,770,540,750,530,745,440,705,450,700,505,640,485,640,540,620,590,612,595]),
 (PU,[980,280,1050,265,1055,305,1085,345,1145,345,1165,385,1165,403,980,405]),
 (ND,[985,410,1098,405,1100,440,1118,470,1090,515,1065,520,1065,625,1085,630,1085,665,1070,670,1070,785,1010,785,1005,745,1000,660,990,620,990,580,1040,545,990,525,980,455]),
 (BL,[978,0,1245,0,1248,40,1230,140,1215,210,1175,230,1170,250,1140,250,1130,240,1095,245,1050,205,1005,180,1005,150,980,130]),
 (BL,[1300,0,1380,0,1445,20,1400,80,1405,140,1385,145,1350,130,1330,115,1300,100,1245,90,1250,40,1275,0]),
 (BL,[1450,35,1490,70,1495,240,1480,270,1410,295,1375,295,1385,190,1405,170,1405,145,1400,85]),
 (DK,[1245,40,1285,0,1305,60,1300,100,1325,115,1350,135,1385,130,1405,170,1385,190,1375,295,1410,295,1370,335,1315,335,1295,280,1290,210,1255,195,1255,210,1215,210,1240,90,1255,85]),
 (BL,[1050,210,1095,245,1130,240,1140,250,1170,250,1175,230,1215,215,1255,195,1290,210,1290,240,1230,245,1225,268,1180,275,1165,385,1145,345,1085,345,1055,305,1050,265]),
 (BL,[1165,405,1180,275,1225,268,1230,245,1290,240,1315,335,1315,410,1332,435,1310,440,1300,620,1225,622,1225,540,1205,540,1205,580,1170,595,1165,630,1118,625,1115,645,1085,645,1085,630,1065,625,1065,520,1090,515,1118,470,1100,440,1098,405]),
 (TE,[1315,335,1370,335,1410,295,1440,285,1445,340,1490,350,1490,375,1450,380,1450,430,1470,500,1480,560,1490,600,1480,630,1415,630,1300,620,1310,440,1332,435,1315,410]),
 (BT,[1440,285,1495,240,1502,660,1480,630,1490,600,1480,560,1470,500,1450,430,1450,380,1490,375,1490,350,1445,340]),
 (ND,[1360,555,1380,545,1380,575,1360,572]),
 (BT,[900,852,968,850,970,785,1070,785,1070,670,1085,665,1085,645,1115,645,1118,680,1160,705,1210,740,1230,780,1290,780,1270,815,1290,830,1260,840,1305,935,1307,1015,1345,1015,1298,1090,1325,1100,1325,1155,1180,1158,1170,1100,1180,1030,1165,990,1140,1060,1105,1085,1070,1050,1030,1030,960,1050,920,1025,890,1040,900,985,915,880]),
 (BT,[1225,625,1500,620,1505,830,1440,830,1438,790,1380,790,1390,885,1365,890,1370,935,1340,950,1305,935,1260,840,1290,830,1270,815,1290,780,1280,720,1255,690,1250,655,1225,640]),
 (BT,[1118,630,1165,630,1205,585,1205,540,1225,540,1225,640,1250,660,1270,700,1280,780,1235,780,1210,740,1200,710,1160,705,1165,690,1118,680]),
 (DK,[1355,885,1365,885,1365,900,1355,900]),
 (LI,[1380,790,1438,790,1440,830,1505,830,1505,925,1490,945,1470,930,1460,925,1470,1000,1425,1005,1395,970,1390,915,1365,905,1390,885]),
 (ND,[1305,940,1390,940,1395,970,1420,1000,1350,1015,1345,1000,1307,995]),
 (ND,[1460,930,1505,925,1505,1015,1470,1000]),
 (ND,[1350,1015,1505,1005,1505,1150,1325,1155,1325,1095,1298,1090,1310,1020]),
 (ND,[1182,1160,1505,1150,1500,1180,1450,1210,1415,1210,1390,1240,1340,1240,1305,1268,1250,1245,1200,1248,1182,1255]),
 (BT,[1182,1255,1250,1245,1305,1268,1340,1240,1390,1240,1415,1210,1450,1210,1505,1175,1505,1470,1390,1470,1340,1440,1290,1440,1285,1465,1165,1470,1160,1285]),
 (TE,[540,825,610,815,615,785,665,785,668,850,900,852,915,880,900,985,890,1040,920,1025,960,1050,1030,1030,1070,1050,1105,1085,1140,1060,1160,990,1180,1030,1170,1100,1182,1285,1120,1270,1020,1270,1005,1310,985,1345,950,1345,935,1275,810,1290,695,1295,690,1385,660,1380,640,1330,620,1320,615,1225,550,1190,545,1120,470,1125,480,1100,560,1085,545,1025,495,975,500,955,565,920,570,880]),
 (TE,[695,1295,810,1290,935,1275,950,1345,985,1345,1005,1310,1020,1270,1120,1270,1182,1285,1165,1470,1140,1465,985,1470,980,1400,900,1350,860,1335,780,1370,725,1395,720,1480,610,1480,618,1320,640,1330,660,1380,690,1385]),
 (BL,[310,855,355,840,415,875,470,885,535,840,570,880,565,920,495,960,525,1020,560,1085,480,1100,440,1170,410,1170,410,1115,345,1105,325,1175,320,1210,240,1250,250,1210,230,1190,240,1150,205,1130,265,1030,245,1015,270,1000,315,960,285,935,250,950,250,915,310,890]),
 (DK,[155,805,240,810,240,830,310,855,310,890,250,915,250,950,285,935,315,960,270,1000,245,1015,270,1040,235,1090,205,1130,160,1120,145,1185,127,1190,127,1290,25,1290,30,1030,55,1030,55,975,117,975,117,830]),
 (BL,[160,1120,205,1135,240,1150,230,1190,248,1215,242,1250,200,1245,165,1285,127,1290,127,1190,145,1185]),
 (ND,[340,1105,412,1115,412,1170,430,1170,442,1225,425,1250,410,1240,395,1265,370,1260,365,1235,310,1215,325,1175]),
 (DK,[430,1165,470,1125,545,1120,550,1190,615,1225,618,1310,540,1335,480,1325,430,1290,405,1245,440,1225]),
 (PU,[275,1225,305,1215,285,1240,272,1235]),
 (BL,[170,1285,200,1245,250,1250,270,1235,315,1245,345,1245,400,1270,415,1295,360,1300,360,1355,265,1355,265,1300,210,1290]),
 (TE,[265,1355,265,1310,295,1300,320,1280,360,1305,338,1355]),
 (PU,[362,1310,430,1290,480,1320,470,1385,430,1420,425,1480,410,1480,410,1355,360,1355]),
 (ND,[420,1480,420,1430,470,1385,480,1325,540,1335,618,1310,610,1480]),
]

s_zones = [
 (LI,[30,-120,110,-120,110,5,155,10,155,45,115,85,125,120,112,150,80,155,30,195,28,145,5,120,30,110]),
 (YE,[110,-120,210,-120,210,-55,408,-53,408,165,160,165,160,10,110,5]),
 (ND,[115,85,160,50,160,145,115,145,125,115]),
 (BL,[80,160,155,150,185,165,165,190,90,198]),
 (TE,[485,72,610,68,610,-10,725,-10,715,100,727,130,680,140,645,190,640,195,640,245,610,220,590,210,540,170,500,150,495,115]),
 (BT,[410,72,485,72,495,115,500,150,540,170,590,215,565,240,530,225,490,175,485,205,490,245,435,250,410,200]),
 (GR,[185,165,408,165,408,200,360,205,330,215,290,200,230,210,240,240,315,270,265,280,260,300,230,295,200,325,205,375,218,420,190,450,140,455,135,375,162,370,185,235,190,200,165,190]),
 (BT,[230,210,290,200,330,215,405,205,410,265,385,285,340,300,320,295,265,300,270,275,315,270,240,240]),
 (BT,[40,170,80,155,112,150,110,205,120,220,110,290,130,370,140,455,190,450,205,440,215,450,205,490,180,495,150,490,130,468,90,485,60,515,55,580,35,610,0,610,0,225,40,225]),
 (YE,[110,205,135,200,190,190,190,230,160,240,160,320,165,370,135,375,115,340,110,290,120,220]),
 (DK,[165,268,182,268,175,310,188,365,170,360,158,320]),
 (TE,[10,225,40,220,42,295,20,305,10,290]),
 (BL,[75,300,88,300,85,320,75,322]),
 (ND,[205,300,240,295,280,305,280,320,250,350,245,400,305,435,275,462,250,440,240,415,215,415,200,375,205,340]),
 (DK,[240,380,290,300,335,295,345,320,390,285,390,390,365,395,305,425,280,430,250,405]),
 (DK,[305,430,380,390,390,395,390,285,405,270,405,230,418,208,440,220,440,250,420,270,440,315,505,330,515,370,550,372,550,400,518,425,525,465,505,515,635,518,638,820,610,760,590,705,575,690,495,700,450,660,405,655,280,648,300,590,235,560,270,550,280,490,275,460]),
 (BL,[278,650,405,655,450,660,495,700,575,690,590,705,610,760,638,825,638,900,560,900,560,965,552,985,585,1012,575,1078,525,1085,525,1035,490,1020,462,1000,465,955,437,975,430,960,428,915,400,905,340,855,300,860,270,888,260,860,262,815,272,780,250,770,240,730,248,670]),
 (ND,[435,250,490,245,480,200,490,178,530,225,565,240,590,220,610,220,640,245,680,260,728,295,715,335,745,350,715,370,715,410,760,450,740,480,695,520,505,518,525,465,518,425,550,400,550,372,515,370,505,330,440,315,420,270]),
 (YE,[190,425,210,420,235,405,245,445,278,485,250,480,232,508,205,490,215,450]),
 (TE,[640,195,730,195,725,240,760,250,780,215,850,210,865,240,870,195,1142,192,1142,510,1080,518,1035,510,998,540,990,480,940,460,905,420,880,465,860,435,820,425,800,450,760,455,745,430,715,410,715,370,745,350,715,335,728,295,680,260,640,245]),
 (TE,[638,520,695,520,740,480,760,458,800,450,810,475,840,478,850,455,880,465,905,425,940,460,990,480,998,540,1035,510,1080,518,1142,510,1170,515,1170,550,1150,600,1188,600,1188,895,638,900]),
 (BL,[820,425,860,420,905,400,880,465,862,445,845,475,805,475,800,455]),
 (PU,[1042,298,1070,295,1042,322]),
 (GR,[1188,600,1192,895,970,897,940,855,960,825,1020,805,1020,770,1005,735,960,725,955,710,980,700,980,670,1010,660,1045,655,1095,630]),
 (LI,[1005,730,1030,720,1065,760,1040,800,1035,820,1050,850,1065,895,970,897,940,855,960,825,1020,805]),
 (DK,[865,768,871,768,871,774,865,774]),
 (LI,[720,70,790,68,880,55,1060,65,1140,75,1162,60,1162,190,895,192,885,160,910,145,905,130,710,135,725,120,715,95]),
 (GR,[725,-15,775,-40,860,-75,905,-60,990,-5,980,65,880,60,790,60,730,65]),
 (GR,[645,190,680,140,905,130,910,145,885,160,895,195,870,195,865,240,850,210,780,215,760,250,725,240,735,195]),
 (LI,[1162,60,1240,50,1255,40,1290,60,1320,95,1380,105,1385,65,1390,40,1465,40,1465,55,1505,55,1508,285,1470,250,1425,230,1410,240,1405,265,1375,280,1365,330,1245,330,1255,290,1258,240,1245,205,1225,190,1210,200,1165,205]),
 (ND,[1290,30,1325,30,1365,60,1385,65,1382,110,1320,100,1290,70]),
 (LI,[1410,230,1425,230,1470,250,1508,285,1508,345,1490,345,1440,325,1400,265]),
 (DK,[1142,190,1170,205,1225,190,1245,205,1258,240,1255,290,1245,330,1142,332]),
 (GR,[1142,335,1365,332,1375,280,1405,265,1440,325,1490,345,1508,345,1510,508,1415,505,1415,410,1395,425,1340,420,1340,445,1280,440,1185,490,1225,515,1145,515]),
 (YE,[1335,420,1395,425,1415,410,1415,498,1380,495,1365,510,1310,510,1345,470,1345,440]),
 (GR,[1278,515,1365,510,1380,495,1510,508,1512,645,1465,650,1430,690,1410,695,1390,645,1330,655,1325,590,1290,555]),
 (TE,[1192,695,1225,695,1328,590,1330,655,1390,645,1410,695,1430,690,1465,650,1512,645,1518,890,1192,895]),
]

# top left corner of each sheet on the figure, paint order is list order
sheets = [((960, 90), nw_zones), ((1600, 90), ne_zones), ((960, 570), w_zones),
          ((960, 1040), sw_zones), ((1600, 570), e_zones), ((1600, 1040), s_zones)]
SHEET_SX, SHEET_SY = 2.376, 3.0

cmap = plt.get_cmap("viridis", 8)
norm = BoundaryNorm(levels, 8)

verts, faces, edges = [], [], []
for (x0, y0), zones in sheets:
    for val, flat in zones:
        pts = np.array(flat, dtype=float).reshape(-1, 2)
        pts = np.column_stack([x0 + pts[:, 0] / SHEET_SX, y0 + pts[:, 1] / SHEET_SY])
        verts.append(pts)
        if val is GAP:
            faces.append("#e8e8e8")
            edges.append("#8a8a8a")
        elif np.isnan(val):
            faces.append("#d3d3d3")
            edges.append("#6e6e6e")
        else:
            faces.append(cmap(norm(val)))
            edges.append("#1a1a1a")

fig = plt.figure(figsize=(16, 8), dpi=200)
ax = fig.add_axes([0, 0, 1, 1])
ax.set_xlim(0, 3200)
ax.set_ylim(1600, 0)
ax.axis("off")

state = np.array(state_outline, dtype=float).reshape(-1, 2)
ax.fill(state[:, 0], state[:, 1], facecolor="#e8e8e8", edgecolor="#999999", linewidth=0.8, zorder=1)
ax.add_collection(PolyCollection(verts, facecolors=faces, edgecolors=edges, linewidths=0.35, zorder=2))

cax = fig.add_axes([0.89, 0.15, 0.014, 0.70])
cb = fig.colorbar(ScalarMappable(norm=norm, cmap=cmap), cax=cax, ticks=levels, format="%.1f", spacing="uniform")
cb.ax.tick_params(labelsize=10)

fig.text(0.5, 0.9625, "Household Average Size by Zip Code (ZCTA5) — New Mexico",
         ha="center", va="center", fontsize=16, fontweight="bold")
fig.text(0.9195, 0.0695, "© ZipCrawl", ha="right", va="center", fontsize=10, color="#aaaaaa")
fig.text(0.9195, 0.0395, "Data: U.S. Census Bureau, 2023 ACS", ha="right", va="center", fontsize=10, color="#aaaaaa")

fig.savefig("out.png", dpi=200)
